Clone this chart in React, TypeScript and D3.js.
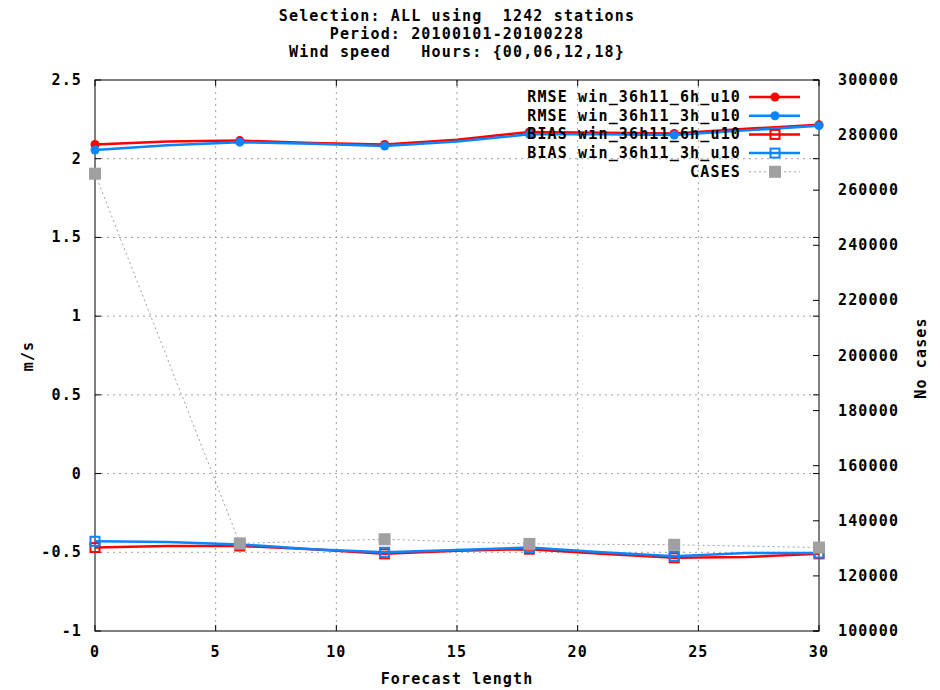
import React from "react";
import * as d3 from "d3";

const hours = [0, 3, 6, 9, 12, 15, 18, 21, 24, 27, 30];
const rmse6h = [2.09, 2.11, 2.115, 2.1, 2.09, 2.12, 2.17, 2.165, 2.16, 2.19, 2.215];
const rmse3h = [2.055, 2.085, 2.105, 2.095, 2.08, 2.11, 2.155, 2.155, 2.15, 2.18, 2.21];
const bias6h = [-0.47, -0.46, -0.46, -0.48, -0.51, -0.49, -0.48, -0.51, -0.535, -0.53, -0.51];
const bias3h = [-0.43, -0.435, -0.45, -0.48, -0.5, -0.485, -0.47, -0.5, -0.525, -0.505, -0.505];
const caseHours = [0, 6, 12, 18, 24, 30];
const cases = [266000, 131800, 133300, 131600, 131300, 130300];
const markerHours = [0, 6, 12, 18, 24, 30];

const xTicks = [0, 5, 10, 15, 20, 25, 30];
const yTicks = [-1, -0.5, 0, 0.5, 1, 1.5, 2, 2.5];
const y2Ticks = [100000, 120000, 140000, 160000, 180000, 200000, 220000, 240000, 260000, 280000, 300000];
const titleLines = [
  "Selection: ALL using  1242 stations",
  "Period: 20100101-20100228",
  "Wind speed   Hours: {00,06,12,18}",
];
const legendLabels = [
  "RMSE win_36h11_6h_u10",
  "RMSE win_36h11_3h_u10",
  "BIAS win_36h11_6h_u10",
  "BIAS win_36h11_3h_u10",
  "CASES",
];

const RED = "#ff0000";
const BLUE = "#0a84ff";
const GRAY = "#a0a0a0";

const L = 95, R = 819, T = 80, B = 631;
const font = "'DejaVu Sans Mono', monospace";
const tStyle: React.CSSProperties = {
  fontFamily: font,
  fontWeight: "bold",
  fontSize: 15,
  letterSpacing: 1.15,
  whiteSpace: "pre",
};

export default function App() {
  const x = d3.scaleLinear().domain([0, 30]).range([L, R]);
  const y = d3.scaleLinear().domain([-1, 2.5]).range([B, T]);
  const y2 = d3.scaleLinear().domain([100000, 300000]).range([B, T]);

  const line = d3.line<[number, number]>().x((d) => x(d[0])).y((d) => y(d[1]));
  const line2 = d3.line<[number, number]>().x((d) => x(d[0])).y((d) => y2(d[1]));

  const series = [
    { vals: rmse6h, color: RED, marker: "circle" },
    { vals: rmse3h, color: BLUE, marker: "circle" },
    { vals: bias6h, color: RED, marker: "square" },
    { vals: bias3h, color: BLUE, marker: "square" },
  ];

  const drawMarker = (type: string, cx: number, cy: number, color: string, key: string) => {
    if (type === "circle") return <circle key={key} cx={cx} cy={cy} r={4.5} fill={color} />;
    if (type === "square")
      return <rect key={key} x={cx - 4.5} y={cy - 4.5} width={9} height={9} fill="none" stroke={color} strokeWidth={2} />;
    return <rect key={key} x={cx - 6} y={cy - 6} width={12} height={12} fill={GRAY} />;
  };

  const legendY0 = 97;
  const legendDy = 18.7;

  return (
    <svg width={940} height={690} style={{ position: "absolute", left: 0, top: 0, background: "#fff" }}>
      {/* grid */}
      {xTicks.slice(1, -1).map((t) => (
        <line key={"gx" + t} x1={x(t)} x2={x(t)} y1={T} y2={B} stroke={GRAY} strokeWidth={1} strokeDasharray="2,4" />
      ))}
      {yTicks.slice(1, -1).map((t) => (
        <line key={"gy" + t} x1={L} x2={R} y1={y(t)} y2={y(t)} stroke={GRAY} strokeWidth={1} strokeDasharray="2,4" />
      ))}

      {/* ticks */}
      {xTicks.map((t) => (
        <g key={"xt" + t}>
          <line x1={x(t)} x2={x(t)} y1={B} y2={B - 6} stroke="#000" />
          <line x1={x(t)} x2={x(t)} y1={T} y2={T + 6} stroke="#000" />
          <text x={x(t)} y={657} textAnchor="middle" style={tStyle}>{t}</text>
        </g>
      ))}
      {yTicks.map((t) => (
        <g key={"yt" + t}>
          <line x1={L} x2={L + 6} y1={y(t)} y2={y(t)} stroke="#000" />
          <line x1={R} x2={R - 6} y1={y(t)} y2={y(t)} stroke="#000" />
          <text x={82} y={y(t) + 5} textAnchor="end" style={tStyle}>{t}</text>
        </g>
      ))}
      {y2Ticks.map((t) => (
        <g key={"y2t" + t}>
          <line x1={R} x2={R - 6} y1={y2(t)} y2={y2(t)} stroke="#000" />
          <text x={838} y={y2(t) + 5} textAnchor="start" style={tStyle}>{t}</text>
        </g>
      ))}

      {/* border */}
      <rect x={L} y={T} width={R - L} height={B - T} fill="none" stroke="#000" strokeWidth={1} />

      {/* series */}
      {series.map((s, i) => (
        <g key={"s" + i}>
          <path d={line(hours.map((h, j) => [h, s.vals[j]]) as [number, number][]) || ""} fill="none" stroke={s.color} strokeWidth={2.5} />
          {hours.map((h, j) =>
            markerHours.includes(h) ? drawMarker(s.marker, x(h), y(s.vals[j]), s.color, "m" + i + "-" + j) : null
          )}
        </g>
      ))}
      <path
        d={line2(caseHours.map((h, j) => [h, cases[j]]) as [number, number][]) || ""}
        fill="none"
        stroke={GRAY}
        strokeWidth={1}
        strokeDasharray="2,3"
      />
      {caseHours.map((h, j) => drawMarker("filled", x(h), y2(cases[j]), GRAY, "c" + j))}

      {/* legend */}
      {legendLabels.map((lab, i) => {
        const ly = legendY0 + i * legendDy;
        const s = series[i];
        return (
          <g key={"lg" + i}>
            <text x={741} y={ly + 5} textAnchor="end" style={tStyle}>{lab}</text>
            {s ? (
              <line x1={749} x2={800} y1={ly} y2={ly} stroke={s.color} strokeWidth={2.5} />
            ) : (
              <line x1={749} x2={800} y1={ly} y2={ly} stroke={GRAY} strokeWidth={1} strokeDasharray="2,3" />
            )}
            {s ? drawMarker(s.marker, 775, ly, s.color, "lm" + i) : drawMarker("filled", 775, ly, GRAY, "lm" + i)}
          </g>
        );
      })}

      {/* titles */}
      {titleLines.map((tl, i) => (
        <text key={"ti" + i} x={457} y={21 + i * 18} textAnchor="middle" xmlSpace="preserve" style={tStyle}>{tl}</text>
      ))}
      <text x={457} y={684} textAnchor="middle" style={tStyle}>Forecast length</text>
      <text transform="translate(33,356) rotate(-90)" textAnchor="middle" style={tStyle}>m/s</text>
      <text transform="translate(926,358) rotate(-90)" textAnchor="middle" style={tStyle}>No cases</text>
    </svg>
  );
}
